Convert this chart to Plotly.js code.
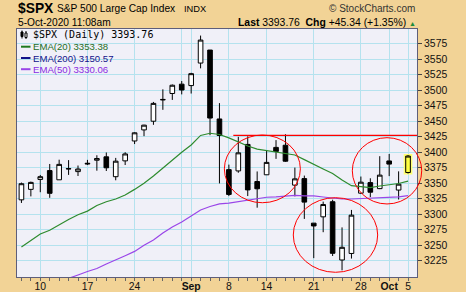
<!DOCTYPE html>
<html>
<head>
<meta charset="utf-8">
<script src="https://cdn.plot.ly/plotly-3.0.1.min.js"></script>
<style>
html,body{margin:0;padding:0;background:#F2D396;}
#chart{width:466px;height:292px;}
</style>
</head>
<body>
<div id="chart"></div>
<script>
// ---- data ----
const dates = ['2020-08-06','2020-08-07','2020-08-10','2020-08-11','2020-08-12','2020-08-13','2020-08-14',
'2020-08-17','2020-08-18','2020-08-19','2020-08-20','2020-08-21','2020-08-24','2020-08-25','2020-08-26',
'2020-08-27','2020-08-28','2020-08-31','2020-09-01','2020-09-02','2020-09-03','2020-09-04','2020-09-08',
'2020-09-09','2020-09-10','2020-09-11','2020-09-14','2020-09-15','2020-09-16','2020-09-17','2020-09-18',
'2020-09-21','2020-09-22','2020-09-23','2020-09-24','2020-09-25','2020-09-28','2020-09-29','2020-09-30',
'2020-10-01','2020-10-02','2020-10-05'];
const openV  = [3323.17,3340.05,3356.04,3370.34,3355.46,3372.95,3368.66,3380.86,3387.04,3392.51,3360.48,3386.01,
3418.09,3435.95,3449.97,3485.14,3494.69,3509.73,3507.44,3543.76,3564.74,3453.60,3371.88,3369.82,3412.56,3352.70,
3363.56,3407.73,3411.23,3346.86,3357.38,3285.57,3295.75,3320.11,3226.14,3236.66,3333.90,3350.92,3341.21,3385.87,
3338.94,3367.27];
const highV  = [3351.03,3352.54,3363.29,3381.01,3387.89,3387.24,3378.51,3387.59,3395.06,3399.54,3390.80,3399.96,
3432.09,3444.21,3481.07,3501.38,3509.23,3514.77,3528.03,3588.11,3564.85,3479.15,3379.97,3424.77,3425.55,3368.95,
3402.93,3419.48,3428.92,3375.17,3362.27,3285.57,3320.31,3323.35,3278.70,3306.88,3360.74,3357.92,3393.56,3397.18,
3369.10,3395.50];
const lowV   = [3318.14,3328.72,3335.44,3326.44,3355.46,3363.35,3361.64,3379.22,3370.15,3369.66,3354.69,3379.31,
3413.13,3425.84,3444.15,3468.35,3484.32,3493.25,3494.60,3535.23,3427.41,3349.63,3329.27,3366.84,3329.25,3310.47,
3363.56,3389.25,3384.45,3328.82,3292.40,3229.10,3270.95,3232.57,3209.45,3228.44,3332.91,3327.54,3340.47,3361.39,
3323.69,3365.50];
const closeV = [3349.16,3351.28,3360.47,3333.69,3380.35,3373.43,3372.85,3381.99,3389.78,3374.85,3385.51,3397.16,
3431.28,3443.62,3478.73,3484.55,3508.01,3500.31,3526.65,3580.84,3455.06,3426.96,3331.84,3398.96,3339.19,3340.97,
3383.54,3401.20,3385.49,3357.01,3319.47,3281.06,3315.57,3236.92,3246.59,3298.46,3351.60,3335.47,3363.00,3380.80,
3348.42,3393.76];
const ema20 = [3247,3258,3268,3274,3283,3291.5,3299,3305,3314,3320,3324.5,3331,3340,3350,3361.6,3374.5,3386,3400,
3411.6,3427,3430.5,3428.5,3423,3416.5,3410,3405,3402.7,3400.8,3398.7,3395.5,3388,3380,3373,3365.6,3355,3346,3344,
3343,3345.5,3347,3349.5,3353.38];
const ema50 = [null,null,null,null,3191,3196,3202,3207.6,3212.4,3219.7,3226,3233,3240,3250,3258.4,3269.7,3279.4,
3287.4,3297,3306.8,3312.4,3316.5,3318,3320.5,3323,3325.3,3327.3,3328,3329,3330.2,3329.4,3329.4,3327.7,3326,3324.5,
3324.5,3325,3325.6,3326,3327,3328,3330.06];
const tickDates  = ['2020-08-10','2020-08-17','2020-08-24','2020-08-31','2020-09-01','2020-09-08','2020-09-14','2020-09-21','2020-09-28','2020-10-01','2020-10-05'];
const tickLabels = ['10','17','24','','<b>Sep</b>','8','14','21','28','<b>Oct</b>','5'];
const yTicks = [3225,3250,3275,3300,3325,3350,3375,3400,3425,3450,3475,3500,3525,3550,3575];
const resistance = 3427;

// ---- geometry ----
const L=17, R=417, T=29, B=277;
const xr=[-0.47,41.95], yr=[3198.7,3598.7];
const idx = dates.map((d,i)=>i);
const tickvals = tickDates.map(d=>dates.indexOf(d));
const px = x => (x-L)/(R-L);
const py = y => (B-y)/(B-T);
const xp = i => (i-xr[0])/(xr[1]-xr[0]);
const yp = v => (v-yr[0])/(yr[1]-yr[0]);
const last = dates.length-1;

const traces = [
 {type:'scatter',mode:'lines',x:idx,y:ema50,line:{color:'#9A45E8',width:1.2},hoverinfo:'skip',showlegend:false},
 {type:'scatter',mode:'lines',x:idx,y:ema20,line:{color:'#2E8B2E',width:1.2},hoverinfo:'skip',showlegend:false},
 {type:'candlestick',x:idx,open:openV,high:highV,low:lowV,close:closeV,whiskerwidth:0,
  increasing:{line:{color:'#000',width:1},fillcolor:'#FFFFFF'},
  decreasing:{line:{color:'#000',width:1},fillcolor:'#000000'},hoverinfo:'skip',showlegend:false},
 {type:'candlestick',x:[idx[last]],open:[openV[last]],high:[closeV[last]],low:[openV[last]],close:[closeV[last]],whiskerwidth:0,
  increasing:{line:{color:'#FFFF70',width:4},fillcolor:'#FFFF70'},
  decreasing:{line:{color:'#FFFF70',width:4},fillcolor:'#FFFF70'},hoverinfo:'skip',showlegend:false},
 {type:'candlestick',x:[idx[last]],open:[openV[last]],high:[highV[last]],low:[lowV[last]],close:[closeV[last]],whiskerwidth:0,
  increasing:{line:{color:'#000',width:1},fillcolor:'#FFFF40'},
  decreasing:{line:{color:'#000',width:1},fillcolor:'#FFFF40'},hoverinfo:'skip',showlegend:false}
];

const circ = (a,b,c,d) => ({type:'circle',xref:'paper',yref:'paper',x0:xp(a),x1:xp(b),y0:yp(c),y1:yp(d),line:{color:'#FF0000',width:1}});
const shapes = [
 {type:'rect',xref:'paper',yref:'paper',x0:0,x1:px(153),y0:py(41),y1:1,fillcolor:'#F0F0F8',line:{width:0},layer:'below'},
 {type:'rect',xref:'paper',yref:'paper',x0:0,x1:px(112),y0:py(73),y1:py(41),fillcolor:'#F0F0F8',line:{width:0},layer:'below'},
 {type:'line',xref:'x',yref:'y',x0:22.47,x1:xr[1],y0:resistance,y1:resistance,line:{color:'#FF0000',width:1.2}},
 circ(21.52,29.58,3318.5,3427.7),
 circ(28.83,37.78,3206.3,3326.6),
 circ(35.09,42.45,3316.5,3423.4),
 {type:'line',xref:'paper',yref:'paper',x0:px(21),x1:px(30.5),y0:py(46.7),y1:py(46.7),line:{color:'#1E7A1E',width:2}},
 {type:'line',xref:'paper',yref:'paper',x0:px(21),x1:px(30.5),y0:py(58),y1:py(58),line:{color:'#12128A',width:2}},
 {type:'line',xref:'paper',yref:'paper',x0:px(21),x1:px(30.5),y0:py(69.2),y1:py(69.2),line:{color:'#9A45E8',width:2}},
 // small candle icon
 {type:'line',xref:'paper',yref:'paper',x0:px(22),x1:px(22),y0:py(30.5),y1:py(38.5),line:{color:'#000',width:1}},
 {type:'rect',xref:'paper',yref:'paper',x0:px(21),x1:px(23),y0:py(32),y1:py(36.5),fillcolor:'#000',line:{color:'#000',width:1}},
 {type:'line',xref:'paper',yref:'paper',x0:px(26),x1:px(26),y0:py(31),y1:py(39),line:{color:'#000',width:1}},
 {type:'rect',xref:'paper',yref:'paper',x0:px(25),x1:px(27),y0:py(33),y1:py(37.5),fillcolor:'#fff',line:{color:'#000',width:1}}
];

const F='Liberation Sans, Arial, sans-serif';
const ann = (x,y,text,size,opts={}) => Object.assign({xref:'paper',yref:'paper',x:px(x),y:py(y),text:text,showarrow:false,
  xanchor:'left',yanchor:'middle',font:{family:F,size:size,color:'#000'}},opts);
const annotations = [
 ann(15.5,8.3,'<b>$SPX</b>',13.8),
 ann(54.5,8.8,'S&P 500 Large Cap Index',10.2),
 ann(182,8.8,'INDX',9.3),
 ann(417,8.8,'© StockCharts.com',10,{xanchor:'right',font:{family:F,size:10,color:'#333'}}),
 ann(16,22.5,'5-Oct-2020 11:08am',10.2),
 ann(418,22.5,'<b>Last</b> 3393.76  <b>Chg</b> +45.34 (+1.35%) <span style="color:#1E8B3A;font-size:7px">▲</span>',10.4,{xanchor:'right'}),
 ann(30.5,35,'$SPX (Daily) 3393.76',10,{font:{family:'DejaVu Sans Mono, monospace',size:10,color:'#000'}}),
 ann(30.5,46.7,'EMA(20) 3353.38',9.5,{font:{family:F,size:9.6,color:'#1E6E1E'}}),
 ann(30.5,58,'EMA(200) 3150.57',9.5,{font:{family:F,size:9.6,color:'#12128A'}}),
 ann(30.5,69.2,'EMA(50) 3330.06',9.5,{font:{family:F,size:9.6,color:'#8A2BE2'}})
];

const layout = {
 width:466,height:292,margin:{l:L,r:466-R,t:T,b:292-B,pad:0},
 paper_bgcolor:'#F2D396',plot_bgcolor:'#F0F0F8',showlegend:false,
 font:{family:F,size:10,color:'#111'},
 xaxis:{range:xr,tickvals:tickvals,ticktext:tickLabels,ticks:'',showgrid:true,gridcolor:'#B4E2EE',gridwidth:1,
   showline:true,mirror:true,linecolor:'#5E5E7A',linewidth:1,zeroline:false,fixedrange:true,
   rangeslider:{visible:false},tickfont:{family:F,size:10.4,color:'#111'},
   minor:{tickvals:idx,ticks:'outside',ticklen:3,tickcolor:'#666',showgrid:false}},
 yaxis:{side:'right',range:yr,tickvals:yTicks,ticks:'outside',ticklen:4,tickcolor:'#444',showgrid:true,
   gridcolor:'#B4E2EE',gridwidth:1,showline:true,mirror:true,linecolor:'#5E5E7A',linewidth:1,zeroline:false,
   fixedrange:true,tickfont:{family:F,size:10.4,color:'#111'}},
 boxgap:0.3,
 shapes:shapes,annotations:annotations
};
Plotly.newPlot('chart',traces,layout,{staticPlot:true,displayModeBar:false});
</script>
</body>
</html>
